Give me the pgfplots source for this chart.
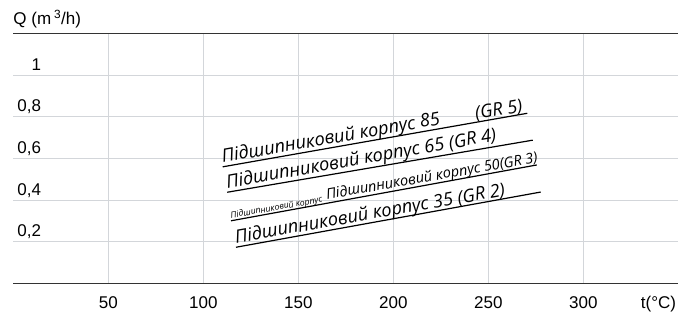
\documentclass[border=0pt]{standalone}
\usepackage{fontspec}
\setmainfont{Liberation Sans}
\newfontfamily\annfont{Open Sans}
\usepackage{pgfplots}
\pgfplotsset{compat=1.18}
\definecolor{gridc}{HTML}{D3D6DA}
\definecolor{axc}{HTML}{333333}
\begin{document}
\begin{tikzpicture}
\begin{axis}[
  at={(13.3pt,29.5pt)}, anchor=south west,
  scale only axis, width=665pt, height=250pt,
  xmin=0, xmax=350, ymin=0, ymax=1.2,
  xtick={50,100,150,200,250,300},
  ytick={0.2,0.4,0.6,0.8,1},
  grid=major,
  major grid style={draw=gridc, line width=1.1pt},
  major tick length=0pt,
  separate axis lines,
  x axis line style={draw=axc, line width=1.4pt},
  y axis line style={draw=none},
  /pgf/number format/assume math mode=true,
  /pgf/number format/.cd, use comma, fixed, precision=1, /pgfplots/.cd,
  tick label style={font=\fontsize{17}{20}\selectfont},
  xticklabel style={anchor=base, inner sep=0pt, yshift=-24.8pt},
  yticklabel style={anchor=base east, inner sep=0pt, xshift=28pt, yshift=5pt},
  title={Q (m\,\textsuperscript{3}/h)},
  title style={at={(rel axis cs:0,1)}, anchor=base west, inner sep=0pt, yshift=2.5pt, font=\fontsize{17}{20}\selectfont},
  xlabel={t(°C)},
  xlabel style={at={(rel axis cs:1,0)}, anchor=base east, inner sep=0pt, yshift=-24.8pt, xshift=-2pt, font=\fontsize{17}{20}\selectfont},
  clip=false,
]
% GR 5 (85)
\addplot[black, line width=1.2pt] coordinates {(110.2,0.560) (270.5,0.817)};
% GR 4 (65)
\addplot[black, line width=1.2pt] coordinates {(112.6,0.438) (273.4,0.688)};
% GR 3 (50)
\addplot[black, line width=1.2pt] coordinates {(114.6,0.301) (275.5,0.569)};
% GR 2 (35)
\addplot[black, line width=1.2pt] coordinates {(117.2,0.174) (277.6,0.439)};

\node[rotate=10, anchor=base west, inner sep=0pt, font=\annfont\itshape\fontsize{18.2}{21}\selectfont] at (axis cs:110.2,0.579) {Підшипниковий корпус 85};
\node[rotate=10, anchor=base west, inner sep=0pt, font=\annfont\itshape\fontsize{18.2}{21}\selectfont] at (axis cs:243.5,0.786) {(GR 5)};
\node[rotate=10, anchor=base west, inner sep=0pt, font=\annfont\itshape\fontsize{18.2}{21}\selectfont] at (axis cs:112.6,0.457) {Підшипниковий корпус 65 (GR 4)};
\node[rotate=10, anchor=base west, inner sep=0pt, font=\annfont\itshape\fontsize{8.6}{10}\selectfont] at (axis cs:114.6,0.313) {Підшипниковий корпус};
\node[rotate=10, anchor=base west, inner sep=0pt, font=\annfont\itshape\fontsize{14.5}{17}\selectfont] at (axis cs:165,0.403) {Підшипниковий корпус 50(GR 3)};
\node[rotate=10, anchor=base west, inner sep=0pt, font=\annfont\itshape\fontsize{18.2}{21}\selectfont] at (axis cs:117.2,0.193) {Підшипниковий корпус 35 (GR 2)};
\end{axis}
\pgfresetboundingbox
\useasboundingbox (0,0) rectangle (692pt,313pt);
\end{tikzpicture}
\end{document}
